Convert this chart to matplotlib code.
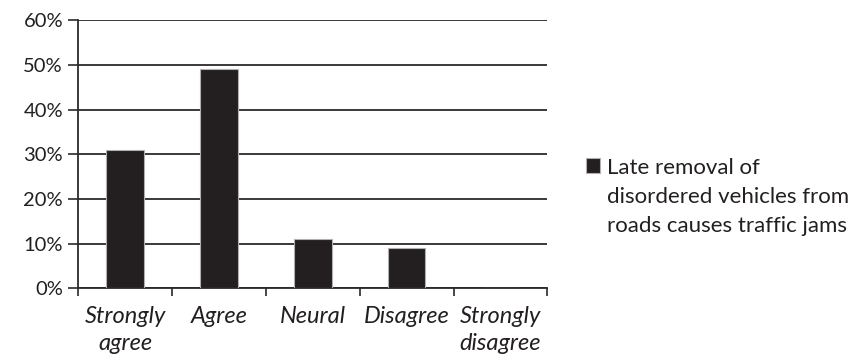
import matplotlib.pyplot as plt
from matplotlib.ticker import FuncFormatter, FixedLocator

plt.rcParams['font.family'] = ['Lato', 'DejaVu Sans']

categories = ['Strongly\nagree', 'Agree', 'Neural', 'Disagree', 'Strongly\ndisagree']
shares = [31, 49, 11, 9, 0]
series_label = 'Late removal of\ndisordered vehicles from\nroads causes traffic jams'

fig = plt.figure(figsize=(8.64, 3.6), dpi=100)
ax = fig.add_axes([0.0906, 0.199, 0.543, 0.745])

x = range(len(categories))
ax.bar(x, shares, width=0.4, color='#231f20', edgecolor='#b0b0b0', linewidth=0.8,
       label=series_label, zorder=3)

ax.set_xlim(-0.5, len(categories) - 0.5)
ax.set_ylim(0, 60)
ax.set_yticks(range(0, 61, 10))
ax.yaxis.set_major_formatter(FuncFormatter(lambda v, _: f'{v:.0f}%'))
ax.grid(axis='y', color='#2a2a2a', linewidth=1.3, zorder=0)

ax.set_xticks(list(x))
ax.set_xticklabels(categories, style='italic', fontsize=17, linespacing=1.3,
                   color='#231f20')
ax.xaxis.set_minor_locator(FixedLocator([i - 0.5 for i in range(len(categories) + 1)]))
ax.tick_params(axis='x', which='major', length=0, pad=13)
ax.tick_params(axis='x', which='minor', length=6, width=1.2, color='#2a2a2a')
ax.tick_params(axis='y', length=7, width=1.2, color='#2a2a2a', labelsize=14.5,
               labelcolor='#231f20', pad=4)

for side in ('top', 'right'):
    ax.spines[side].set_visible(False)
for side in ('left', 'bottom'):
    ax.spines[side].set_color('#2a2a2a')
    ax.spines[side].set_linewidth(1.3)

leg = ax.legend(loc='upper left', bbox_to_anchor=(0.678, 0.561),
                bbox_transform=fig.transFigure, frameon=False,
                handlelength=0.65, handleheight=0.65, handletextpad=0.3,
                fontsize=16, borderpad=0, borderaxespad=0)
for t in leg.get_texts():
    t.set_color('#231f20')
    t.set_linespacing(1.55)
# keep the marker square level with the first line of the label
for column in leg._legend_handle_box.get_children():
    for row in column.get_children():
        row.align = 'top'

fig.savefig('out.png', dpi=100)
